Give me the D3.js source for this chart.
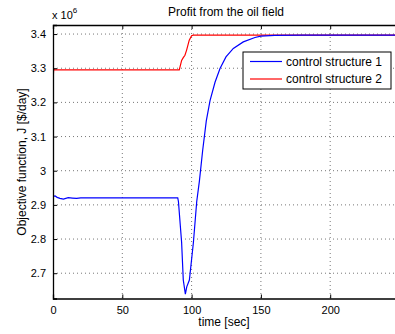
<!DOCTYPE html>
<html><head><meta charset="utf-8">
<script src="https://cdn.jsdelivr.net/npm/d3@7"></script>
<style>body{margin:0;background:#fff}svg{display:block}text{font-family:"Liberation Sans",Arial,sans-serif}</style>
</head><body>
<script>
const xTicks=[0,50,100,150,200];
const yTicks=[2.7,2.8,2.9,3.0,3.1,3.2,3.3,3.4];
const seriesNames=["control structure 1","control structure 2"];
// values in units of 1e6 $/day
const t1=[0,0.3,1.5,3,5,7.5,11,14,17,20,40,60,80,90,90.5,92.8,94,95.5,96.5,98.4,101.3,103.7,105.6,108,110.6,113.3,116.9,120.5,124.8,130.1,137.3,145.7,150,160,180,200,230,250];
const v1=[2.90,2.925,2.926,2.922,2.919,2.917,2.921,2.920,2.919,2.9205,2.9205,2.9205,2.9205,2.9205,2.91,2.79,2.68,2.639,2.66,2.68,2.79,2.91,2.969,3.06,3.146,3.205,3.259,3.299,3.333,3.358,3.377,3.39,3.394,3.396,3.397,3.397,3.397,3.397];
const t2=[0,0.2,0.5,1,2,20,50,80,91.1,92.8,94,95.2,96.4,98.3,100,101.2,120,150,200,250];
const v2=[3.30,3.275,3.298,3.295,3.295,3.295,3.295,3.295,3.295,3.323,3.331,3.338,3.353,3.382,3.395,3.397,3.397,3.397,3.397,3.397];

const W=395,H=334;
const svg=d3.select("body").append("svg").attr("width",W).attr("height",H);
const L=53,R=399.5,T=25,B=298.5;
const x=d3.scaleLinear().domain([0,250]).range([L,R]);
const y=d3.scaleLinear().domain([2.626,3.4265]).range([B,T]);

// grid
const g=svg.append("g");
g.selectAll(".gx").data(xTicks.filter(d=>d>0)).join("line")
 .attr("x1",d=>x(d)).attr("x2",d=>x(d)).attr("y1",T).attr("y2",B)
 .attr("stroke","#777").attr("stroke-width",1).attr("stroke-dasharray","1,3");
g.selectAll(".gy").data(yTicks).join("line")
 .attr("x1",L).attr("x2",R).attr("y1",d=>y(d)).attr("y2",d=>y(d))
 .attr("stroke","#777").attr("stroke-width",1).attr("stroke-dasharray","1,3");

// lines
const clip=svg.append("clipPath").attr("id","c").append("rect").attr("x",L).attr("y",T).attr("width",R-L).attr("height",B-T);
const line=d3.line().x(d=>x(d[0])).y(d=>y(d[1])).curve(d3.curveMonotoneX);
const lineL=d3.line().x(d=>x(d[0])).y(d=>y(d[1]));
svg.append("path").attr("clip-path","url(#c)").datum(t2.map((t,i)=>[t,v2[i]])).attr("d",lineL)
 .attr("fill","none").attr("stroke","#ff0000").attr("stroke-width",1.2);
svg.append("path").attr("clip-path","url(#c)").datum(t1.map((t,i)=>[t,v1[i]])).attr("d",lineL)
 .attr("fill","none").attr("stroke","#0000ff").attr("stroke-width",1.2);

// axes box
const ax=svg.append("g");
ax.append("g").attr("transform",`translate(0,${B})`)
 .call(d3.axisBottom(x).tickValues(xTicks).tickSize(-4).tickPadding(8).tickFormat(d3.format("d")));
ax.append("g").attr("transform",`translate(0,${T})`)
 .call(d3.axisTop(x).tickValues(xTicks).tickSize(-4).tickFormat(""));
ax.append("g").attr("transform",`translate(${L},0)`)
 .call(d3.axisLeft(y).tickValues(yTicks).tickSize(-4).tickPadding(7).tickFormat(d=>d3.format(".1f")(d).replace(/\.0$/,"")));
ax.selectAll(".domain").attr("stroke","#000").attr("stroke-width",1.3);
ax.selectAll(".tick line").attr("stroke","#000");
ax.selectAll(".tick text").attr("font-size",11).attr("fill","#000").attr("font-family","Liberation Sans, Arial, sans-serif");

// texts
svg.append("text").attr("x",226).attr("y",16).attr("text-anchor","middle").attr("font-size",12).text("Profit from the oil field");
const e=svg.append("text").attr("x",52).attr("y",19).attr("font-size",11);
e.append("tspan").text("x 10");
e.append("tspan").attr("dy",-6).attr("font-size",8).text("6");
svg.append("text").attr("transform","translate(26,162) rotate(-90)").attr("text-anchor","middle").attr("font-size",12).text("Objective function, J [$/day]");
svg.append("text").attr("x",224).attr("y",326).attr("text-anchor","middle").attr("font-size",12).text("time [sec]");

// legend
const lg=svg.append("g");
lg.append("rect").attr("x",243).attr("y",52).attr("width",148).attr("height",37).attr("fill","#fff").attr("stroke","#000").attr("stroke-width",1);
const cols=["#0000ff","#ff0000"];
seriesNames.forEach((n,i)=>{
  const yy=61.5+i*17.5;
  lg.append("line").attr("x1",250).attr("x2",282).attr("y1",yy).attr("y2",yy).attr("stroke",cols[i]).attr("stroke-width",1.2);
  lg.append("text").attr("x",286).attr("y",yy+4).attr("font-size",12).text(n);
});
</script>
</body></html>
